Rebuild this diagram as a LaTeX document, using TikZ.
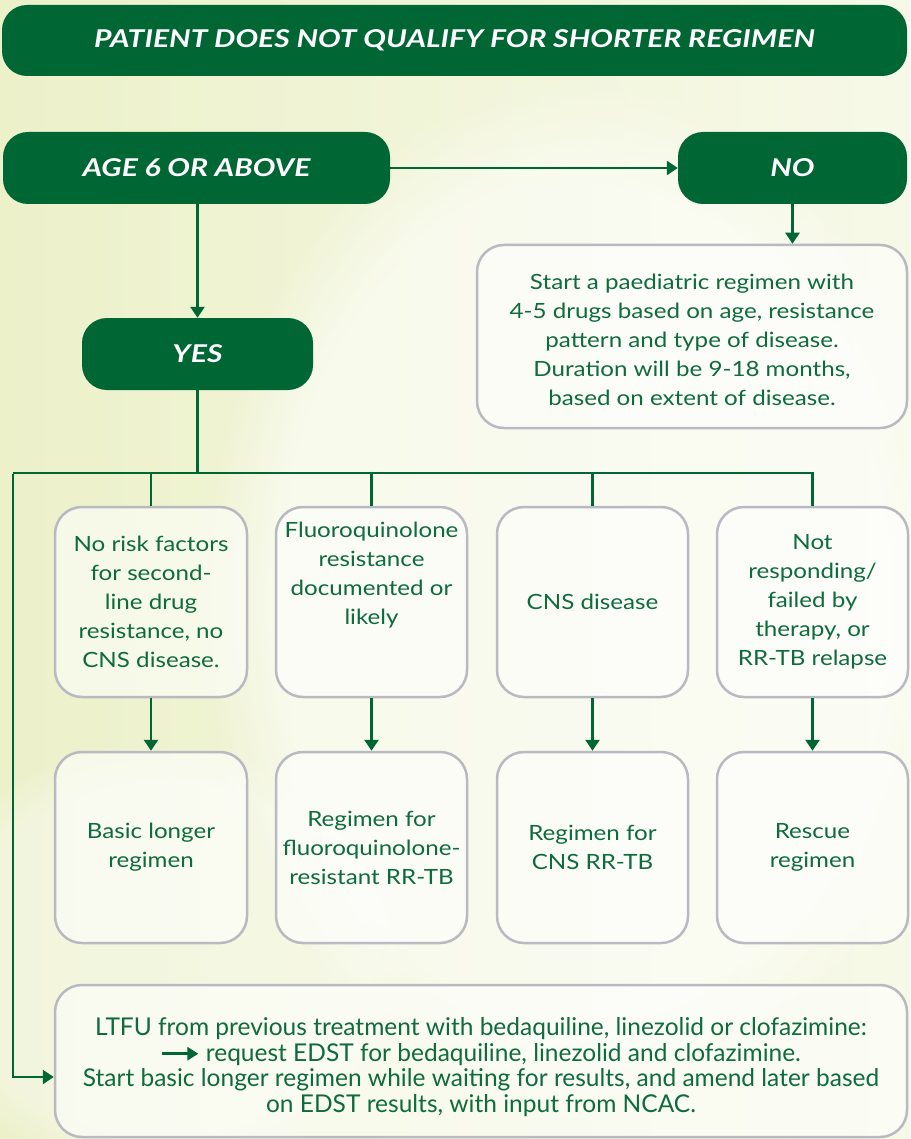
\documentclass[tikz,border=0pt]{standalone}
\usepackage{fontspec}
\setmainfont{Lato}
\newfontfamily\boxfont[FakeStretch=1.15]{Lato}
\newfontfamily\headfont[FakeStretch=1.23]{Lato}
\usetikzlibrary{arrows.meta,calc,fadings}
\definecolor{dkgreen}{HTML}{006633}
\definecolor{txtgreen}{HTML}{0E6B3B}
\definecolor{boxgrey}{HTML}{B9B9C1}
\definecolor{bgA}{HTML}{ECF1CA}
\definecolor{bgB}{HTML}{F7F9E8}
\tikzset{
  greenbox/.style={draw=none, fill=dkgreen, rounded corners=25pt, inner sep=0pt,
    text=white, font=\headfont\fontsize{24.5}{28}\selectfont\bfseries\itshape},
  greybox/.style={draw=boxgrey, line width=2.5pt, fill=white, fill opacity=0.55, text opacity=1,
    rounded corners=27pt, inner sep=0pt, align=center, text=txtgreen,
    font=\boxfont\fontsize{21}{29}\selectfont},
  conn/.style={draw=dkgreen, line width=2.5pt},
  arr/.style={conn, -{Triangle[length=11pt,width=14pt]}},
}
\begin{document}
\begin{tikzpicture}[x=1pt,y=-1pt]
\useasboundingbox (0,0) rectangle (910,1139);
\shade[left color=bgA, right color=bgB] (0,0) rectangle (910,1139);
\fill[white, opacity=0.55, path fading=circle with fuzzy edge 20 percent] (580,600) ellipse (380 and 520);
\fill[white, opacity=0.35, path fading=circle with fuzzy edge 20 percent] (160,960) ellipse (260 and 220);
% nodes
\node[greenbox, minimum width=905pt, minimum height=71pt] (title) at (454.5,40.5) {PATIENT DOES NOT QUALIFY FOR SHORTER REGIMEN};
\node[greenbox, minimum width=387pt, minimum height=72pt] (age) at (196.5,168) {AGE 6 OR ABOVE};
\node[greenbox, minimum width=229pt, minimum height=72pt] (no) at (792.5,168) {NO};
\node[greybox, minimum width=430pt, minimum height=183pt] (ped) at (692,336.5) {\rule{0pt}{22pt}Start a paediatric regimen with\\4-5 drugs based on age, resistance\\pattern and type of disease.\\Duration will be 9-18 months,\\based on extent of disease.};
\node[greenbox, minimum width=231pt, minimum height=72pt] (yes) at (197.5,354) {YES};
\node[greybox, minimum width=192pt, minimum height=190pt] (r1a) at (151,602) {No risk factors\\for second-\\line drug\\resistance, no\\CNS disease.};
\node[greybox, minimum width=191pt, minimum height=190pt] (r1b) at (371.5,602) {Fluoroquinolone\\resistance\\documented or\\likely\\[29pt]};
\node[greybox, minimum width=191pt, minimum height=190pt] (r1c) at (592.5,602) {CNS disease};
\node[greybox, minimum width=191pt, minimum height=190pt] (r1d) at (812.5,602) {Not\\responding/\\failed by\\therapy, or\\RR-TB relapse};
\node[greybox, minimum width=192pt, minimum height=191pt] (r2a) at (151,847.5) {Basic longer\\regimen};
\node[greybox, minimum width=191pt, minimum height=191pt] (r2b) at (371.5,847.5) {Regimen for\\fluoroquinolone-\\resistant RR-TB};
\node[greybox, minimum width=191pt, minimum height=191pt] (r2c) at (592.5,847.5) {Regimen for\\CNS RR-TB};
\node[greybox, minimum width=191pt, minimum height=191pt] (r2d) at (812.5,847.5) {Rescue\\regimen};
\node[greybox, minimum width=852pt, minimum height=152pt, font=\rmfamily\fontsize{24.5}{25.5}\selectfont] (bot) at (481,1061) {\rule{0pt}{30pt}LTFU from previous treatment with bedaquiline, linezolid or clofazimine:\\\tikz[baseline=-0.6ex,x=1pt,y=1pt]\draw[draw=dkgreen,line width=2.5pt,-{Triangle[length=11pt,width=13pt]}] (0,0)--(36,0);\ request EDST for bedaquiline, linezolid and clofazimine.\\Start basic longer regimen while waiting for results, and amend later based\\on EDST results, with input from NCAC.};
% connectors
\coordinate (busL) at (13,473);
\draw[arr] (age.east) -- (no.west);
\draw[arr] (no.south) -- (no.south |- ped.north);
\draw[arr] (yes.north |- age.south) -- (yes.north);
\draw[conn] (yes.south) -- (yes.south |- busL);
\draw[conn] (busL) -- (r1d.north |- busL) -- (r1d.north);
\draw[conn] (r1a.north |- busL) -- (r1a.north);
\draw[conn] (r1b.north |- busL) -- (r1b.north);
\draw[conn] (r1c.north |- busL) -- (r1c.north);
\draw[arr] ([yshift=-1.25pt]busL) -- (busL |- 0,1077) -- (bot.west |- 0,1077);
\draw[arr] (r1a.south) -- (r2a.north);
\draw[arr] (r1b.south) -- (r2b.north);
\draw[arr] (r1c.south) -- (r2c.north);
\draw[arr] (r1d.south) -- (r2d.north);
\end{tikzpicture}
\end{document}
